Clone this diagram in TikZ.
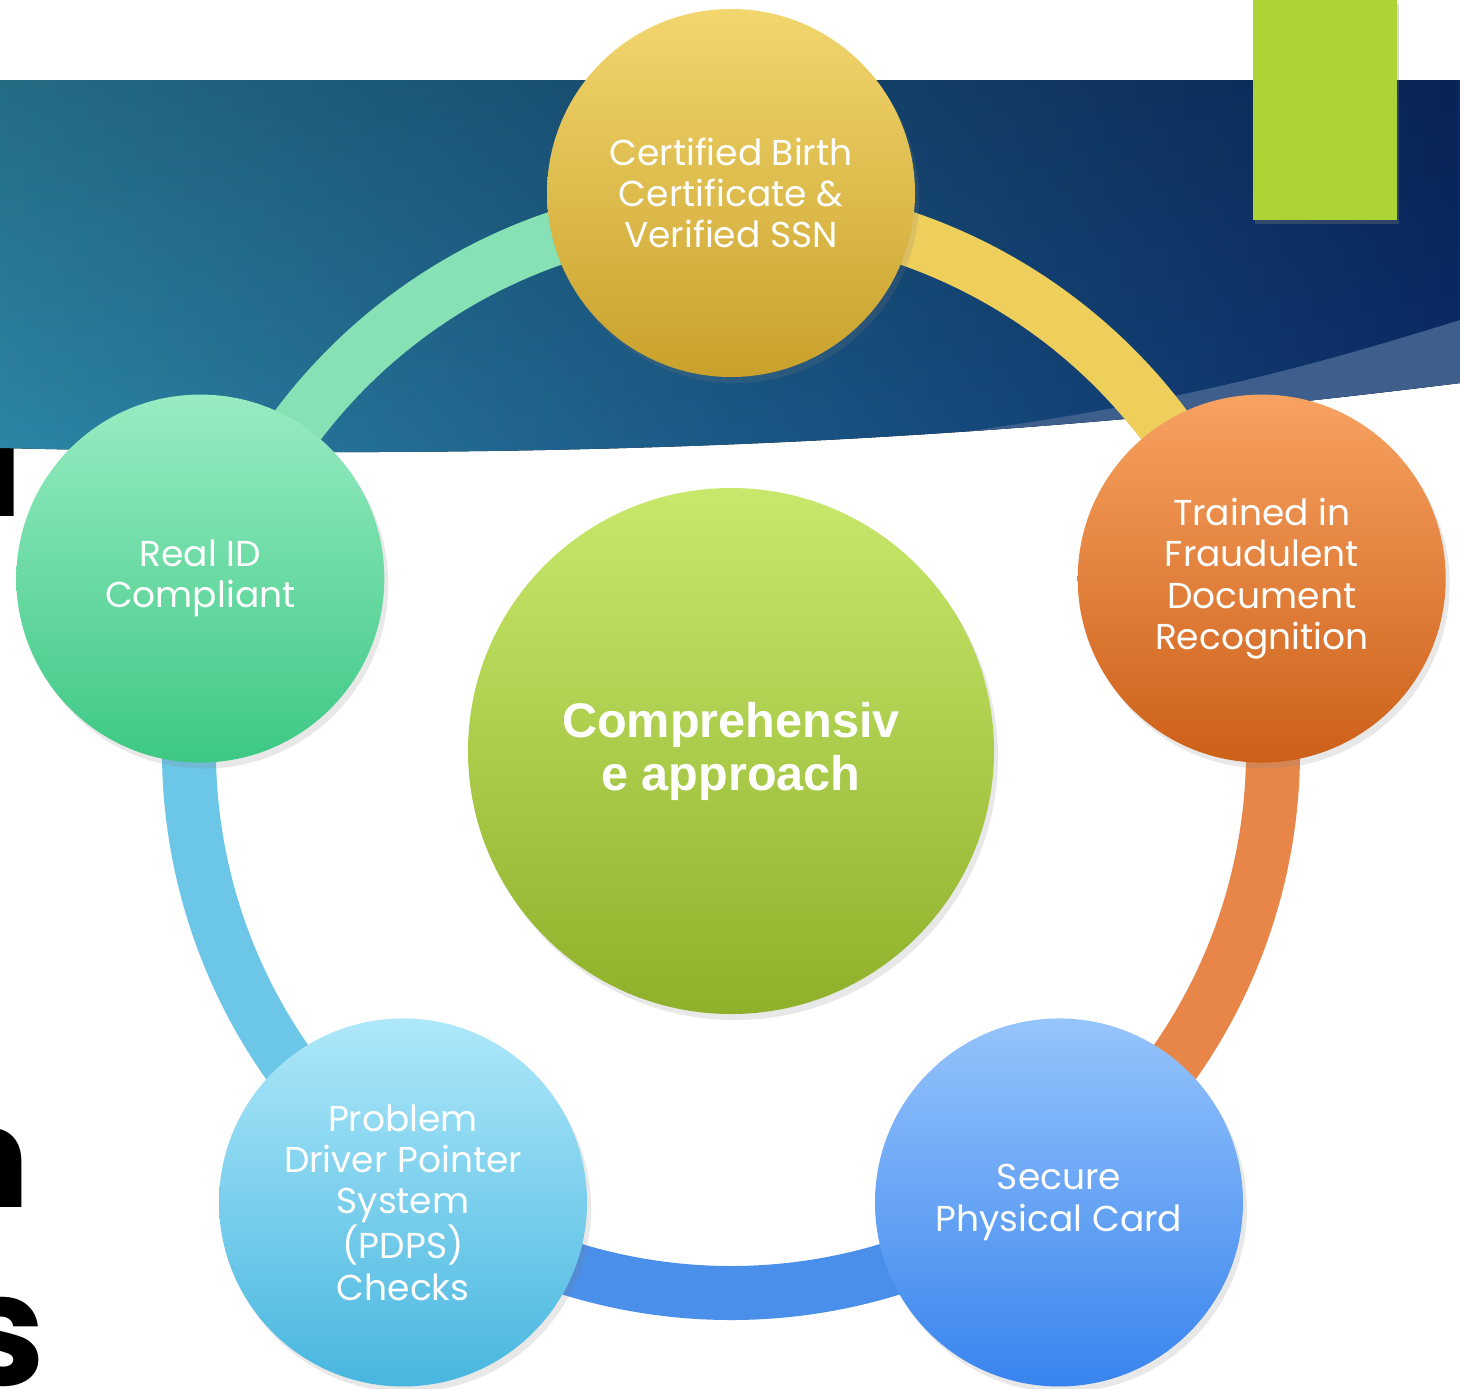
\documentclass[tikz,border=0pt]{standalone}
\usepackage{fontspec}
\setmainfont{Poppins}
\newfontfamily\arialfont{Liberation Sans}
\usetikzlibrary{calc,shadows,fadings}

\definecolor{bandteal}{HTML}{2D87A6}
\definecolor{bandmid}{HTML}{27739A}
\definecolor{bandnavy}{HTML}{0B2C69}
\definecolor{bandlight}{HTML}{3E5E8C}
\definecolor{limegreen}{HTML}{ADD435}
\definecolor{arcyellow}{HTML}{EFCF5C}
\definecolor{arcorange}{HTML}{E8864A}
\definecolor{arcblue}{HTML}{4A8FEA}
\definecolor{arcsky}{HTML}{6CC6E8}
\definecolor{arcgreen}{HTML}{86E2B5}
\definecolor{coretop}{HTML}{C8E86C}
\definecolor{corebot}{HTML}{8FB02A}
\definecolor{birthtop}{HTML}{F2D66E}
\definecolor{birthbot}{HTML}{C9A12C}
\definecolor{fraudtop}{HTML}{F8A262}
\definecolor{fraudbot}{HTML}{CC6018}
\definecolor{cardtop}{HTML}{96C4FC}
\definecolor{cardbot}{HTML}{3884EE}
\definecolor{pdpstop}{HTML}{AEE8FA}
\definecolor{pdpsbot}{HTML}{48B6DF}
\definecolor{realtop}{HTML}{98ECC2}
\definecolor{realbot}{HTML}{3DC884}

\tikzset{
  bubble/.style={circle, minimum size=184pt, inner sep=0pt, text=white, align=center,
    font=\fontsize{18}{20.7}\selectfont,
    drop shadow={opacity=0.18, shadow xshift=2pt, shadow yshift=-3pt}},
  ringarc/.style={draw=#1, line width=27pt},
  cutletter/.style={anchor=base east, inner sep=0pt, text=black}
}

\begin{document}
\begin{tikzpicture}[x=0.5pt, y=0.5pt]
  \useasboundingbox (0,0) rectangle (1460,-1388);
  \fill[white] (0,0) rectangle (1460,-1388);
  % title letters cut off at the left edge
  \node[cutletter, font=\fontsize{70}{70}\bfseries\selectfont] (ttl1) at (23,-516) {l};
  \node[cutletter, font=\fontsize{70}{70}\bfseries\selectfont] (ttl2) at (30,-1207) {n};
  \node[cutletter, font=\fontsize{78}{78}\bfseries\selectfont] (ttl3) at (46,-1385) {s};
  % header band
  \fill[left color=bandteal, middle color=bandmid, right color=bandnavy]
    (0,-80) -- (1460,-80) -- (1460,-383) .. controls (1000,-440) and (600,-462) .. (0,-448) -- cycle;
  \begin{scope}
    \clip (0,-80) -- (1460,-80) -- (1460,-383) .. controls (1000,-440) and (600,-462) .. (0,-448) -- cycle;
    \fill[black, opacity=0.2, path fading=south] (0,-80) rectangle (1460,-470);
    \fill[bandlight] (1460,-320) .. controls (1300,-370) and (1150,-410) .. (900,-440)
      -- (900,-600) -- (1460,-600) -- cycle;
  \end{scope}
  \fill[limegreen, drop shadow={opacity=0.3, shadow xshift=1pt, shadow yshift=-2pt}]
    (1253,0) rectangle (1397,-220);

  \coordinate (O) at (731,-751);
  \coordinate (pBirth) at ($(O)+(90:279pt)$);
  \coordinate (pFraud) at ($(O)+(18:279pt)$);
  \coordinate (pCard) at ($(O)+(-54:279pt)$);
  \coordinate (pPDPS) at ($(O)+(-126:279pt)$);
  \coordinate (pReal) at ($(O)+(162:279pt)$);
  % ring runs a little inside the bubble centres
  \foreach \a/\n in {90/rBirth, 18/rFraud, -54/rCard, -126/rPDPS, 162/rReal}
    \coordinate (\n) at ($(O)+(\a:271pt)$);

  \draw[ringarc=arcyellow] (rBirth) arc[start angle=90, end angle=18, radius=271pt];
  \draw[ringarc=arcorange] (rFraud) arc[start angle=18, end angle=-54, radius=271pt];
  \draw[ringarc=arcblue] (rCard) arc[start angle=-54, end angle=-126, radius=271pt];
  \draw[ringarc=arcsky] (rPDPS) arc[start angle=-126, end angle=-198, radius=271pt];
  \draw[ringarc=arcgreen] (rReal) arc[start angle=162, end angle=90, radius=271pt];

  \node[bubble, minimum size=263pt, top color=coretop, bottom color=corebot,
    font=\arialfont\bfseries\fontsize{24.3}{26.5}\selectfont] (core) at (O) {Comprehensiv\\e approach};
  \node[bubble, top color=birthtop, bottom color=birthbot] (birth) at (pBirth)
    {Certified Birth\\Certificate \&\\Verified SSN};
  \node[bubble, top color=fraudtop, bottom color=fraudbot] (fraud) at (pFraud)
    {Trained in\\Fraudulent\\Document\\Recognition};
  \node[bubble, top color=cardtop, bottom color=cardbot] (card) at (pCard)
    {Secure\\Physical Card};
  \node[bubble, top color=pdpstop, bottom color=pdpsbot] (pdps) at (pPDPS)
    {Problem\\Driver Pointer\\System\\(PDPS)\\Checks};
  \node[bubble, top color=realtop, bottom color=realbot] (real) at (pReal)
    {Real ID\\Compliant};
\end{tikzpicture}
\end{document}
